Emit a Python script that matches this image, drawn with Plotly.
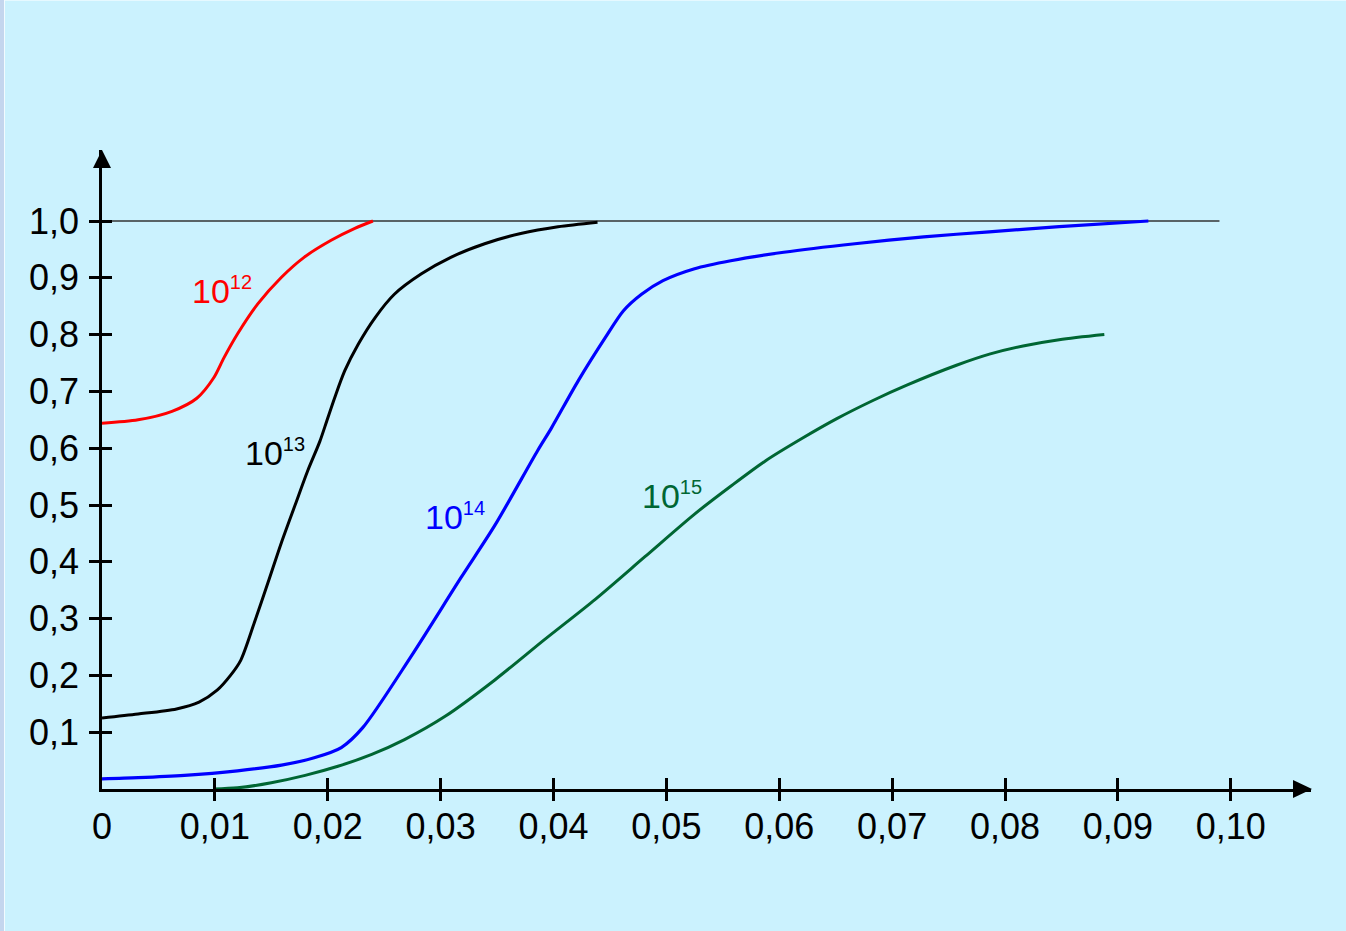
import plotly.graph_objects as go

# ---------------- data ----------------
X_TICKS = [0, 0.01, 0.02, 0.03, 0.04, 0.05, 0.06, 0.07, 0.08, 0.09, 0.10]
X_TICK_TEXT = ["0", "0,01", "0,02", "0,03", "0,04", "0,05", "0,06", "0,07", "0,08", "0,09", "0,10"]
Y_TICKS = [0.1, 0.2, 0.3, 0.4, 0.5, 0.6, 0.7, 0.8, 0.9, 1.0]
Y_TICK_TEXT = ["0,1", "0,2", "0,3", "0,4", "0,5", "0,6", "0,7", "0,8", "0,9", "1,0"]

LABELS = ["10<sup>12</sup>", "10<sup>13</sup>", "10<sup>14</sup>", "10<sup>15</sup>"]

X_1E12 = [0, 0.0032, 0.0062, 0.0084, 0.0099, 0.0108, 0.0120, 0.0138, 0.0159, 0.0179, 0.0203, 0.0224, 0.0240]
Y_1E12 = [0.644, 0.650, 0.665, 0.688, 0.724, 0.759, 0.801, 0.854, 0.901, 0.936, 0.966, 0.987, 1.0]

X_1E13 = [0, 0.0032, 0.0066, 0.0086, 0.0102, 0.0114, 0.0123, 0.0135, 0.0147, 0.0159, 0.0171, 0.0182,
          0.0193, 0.0199, 0.0206, 0.0215, 0.0227, 0.0242, 0.0259, 0.0283, 0.0309, 0.0339, 0.0371, 0.0404, 0.0439]
Y_1E13 = [0.125, 0.132, 0.141, 0.153, 0.174, 0.2005, 0.227, 0.293, 0.363, 0.434, 0.4995, 0.559,
          0.612, 0.647, 0.688, 0.736, 0.783, 0.830, 0.871, 0.907, 0.936, 0.960, 0.978, 0.990, 0.998]

X_1E14 = [0, 0.0032, 0.0073, 0.0120, 0.0159, 0.0188, 0.0212, 0.0231, 0.0274, 0.0318, 0.0348, 0.0386,
          0.0398, 0.0422, 0.0446, 0.0462, 0.0478, 0.0497, 0.0525, 0.0557, 0.0604, 0.0667, 0.0728,
          0.0786, 0.0848, 0.0927]
Y_1E14 = [0.018, 0.020, 0.024, 0.032, 0.042, 0.055, 0.073, 0.108, 0.234, 0.372, 0.464, 0.596,
          0.635, 0.719, 0.795, 0.842, 0.871, 0.895, 0.916, 0.930, 0.945, 0.960, 0.972,
          0.981, 0.990, 1.0]

X_1E15 = [0.0099, 0.0120, 0.0150, 0.0180, 0.0209, 0.0239, 0.0268, 0.0304, 0.0348, 0.0392, 0.0437,
          0.0481, 0.0525, 0.0557, 0.0588, 0.0620, 0.0651, 0.0683, 0.0713, 0.0757, 0.0787, 0.0816,
          0.0848, 0.0888]
Y_1E15 = [0.0, 0.002, 0.011, 0.024, 0.040, 0.061, 0.087, 0.128, 0.192, 0.263, 0.334,
          0.409, 0.484, 0.533, 0.578, 0.617, 0.652, 0.684, 0.711, 0.746, 0.766, 0.780,
          0.791, 0.800]

REF_LINE_X = [0, 0.099]
REF_LINE_Y = [1.0, 1.0]

# ---------------- layout geometry ----------------
FIG_W, FIG_H = 1346, 931
L, R, T, B = 102, 35, 150, 142
PW = FIG_W - L - R
PH = FIG_H - T - B
X_MAX = 0.10711
Y_MAX = 1.125

BG = "#cbf2fe"
FONT = "Liberation Sans, Arial, sans-serif"
RED, BLACK, BLUE, GREEN = "#ff0000", "#000000", "#0000ff", "#006633"


def pxx(p):
    return (p - L) / PW


def pxy(p):
    return (FIG_H - B - p) / PH


fig = go.Figure()

fig.add_trace(go.Scatter(x=REF_LINE_X, y=REF_LINE_Y, mode="lines",
                         line=dict(color="#333333", width=1.5), hoverinfo="skip"))

for xs, ys, col, w in [(X_1E12, Y_1E12, RED, 3), (X_1E13, Y_1E13, BLACK, 3),
                       (X_1E14, Y_1E14, BLUE, 3.2), (X_1E15, Y_1E15, GREEN, 3)]:
    fig.add_trace(go.Scatter(x=xs, y=ys, mode="lines",
                             line=dict(color=col, width=w, shape="spline", smoothing=0.8)))

# empty traces so the overlay tick axes are drawn
fig.add_trace(go.Scatter(x=[], y=[], xaxis="x2", yaxis="y"))
fig.add_trace(go.Scatter(x=[], y=[], xaxis="x3", yaxis="y"))
fig.add_trace(go.Scatter(x=[], y=[], xaxis="x", yaxis="y2"))

tickfont = dict(family=FONT, size=36, color="black")

fig.update_layout(
    width=FIG_W, height=FIG_H,
    margin=dict(l=L, r=R, t=T, b=B),
    paper_bgcolor=BG, plot_bgcolor=BG,
    showlegend=False,
    xaxis=dict(range=[0, X_MAX], tickvals=X_TICKS, ticktext=X_TICK_TEXT, ticks="",
               showline=True, linecolor="black", linewidth=2.5, showgrid=False,
               zeroline=False, tickfont=tickfont, automargin=False, ticklabelstandoff=4),
    xaxis2=dict(range=[0, X_MAX], overlaying="x", anchor="y", tickvals=X_TICKS[1:],
                ticks="outside", ticklen=11, tickwidth=2.5, tickcolor="black",
                showticklabels=False, showline=False, showgrid=False, zeroline=False),
    xaxis3=dict(range=[0, X_MAX], overlaying="x", anchor="y", tickvals=X_TICKS[1:],
                ticks="inside", ticklen=11, tickwidth=2.5, tickcolor="black",
                showticklabels=False, showline=False, showgrid=False, zeroline=False),
    yaxis=dict(range=[0, Y_MAX], tickvals=Y_TICKS, ticktext=Y_TICK_TEXT,
               ticks="outside", ticklen=10, tickwidth=2.5, tickcolor="black",
               showline=True, linecolor="black", linewidth=2.5, showgrid=False,
               zeroline=False, tickfont=tickfont, automargin=False, ticklabelstandoff=3),
    yaxis2=dict(range=[0, Y_MAX], overlaying="y", anchor="x", tickvals=Y_TICKS,
                ticks="inside", ticklen=10, tickwidth=2.5, tickcolor="black",
                showticklabels=False, showline=False, showgrid=False, zeroline=False),
)

# arrow heads
fig.add_shape(type="path", xref="paper", yref="paper", line=dict(width=0), fillcolor="black",
              path=f"M {pxx(102)} {pxy(150)} L {pxx(93)} {pxy(168)} L {pxx(111)} {pxy(168)} Z")
fig.add_shape(type="path", xref="paper", yref="paper", line=dict(width=0), fillcolor="black",
              path=f"M {pxx(1312)} {pxy(789)} L {pxx(1293)} {pxy(780)} L {pxx(1293)} {pxy(798)} Z")

# slide border strips
fig.add_shape(type="rect", xref="paper", yref="paper", line=dict(width=0), fillcolor="#c4d6ee",
              x0=pxx(0), x1=pxx(4), y0=pxy(FIG_H), y1=pxy(0), layer="below")
fig.add_shape(type="rect", xref="paper", yref="paper", line=dict(width=0), fillcolor="#f2fbff",
              x0=pxx(4), x1=pxx(5), y0=pxy(FIG_H), y1=pxy(0), layer="below")
fig.add_shape(type="rect", xref="paper", yref="paper", line=dict(width=0), fillcolor="#e6f9ff",
              x0=pxx(5), x1=pxx(FIG_W), y0=pxy(1), y1=pxy(0), layer="below")

# curve labels
label_pos = [(190, 290, RED), (243, 452, BLACK), (423, 516, BLUE), (640, 495, GREEN)]
for text, (lx, ly, col) in zip(LABELS, label_pos):
    fig.add_annotation(xref="paper", yref="paper", x=pxx(lx), y=pxy(ly),
                       xanchor="left", yanchor="middle", showarrow=False,
                       text=text.replace("<sup>", "<sup><span style='font-size:20px'>").replace("</sup>", "</span></sup>"),
                       font=dict(family=FONT, size=34, color=col))

fig.write_html("out.html", config={"displayModeBar": False},
               post_script="document.body.style.margin='0';")
